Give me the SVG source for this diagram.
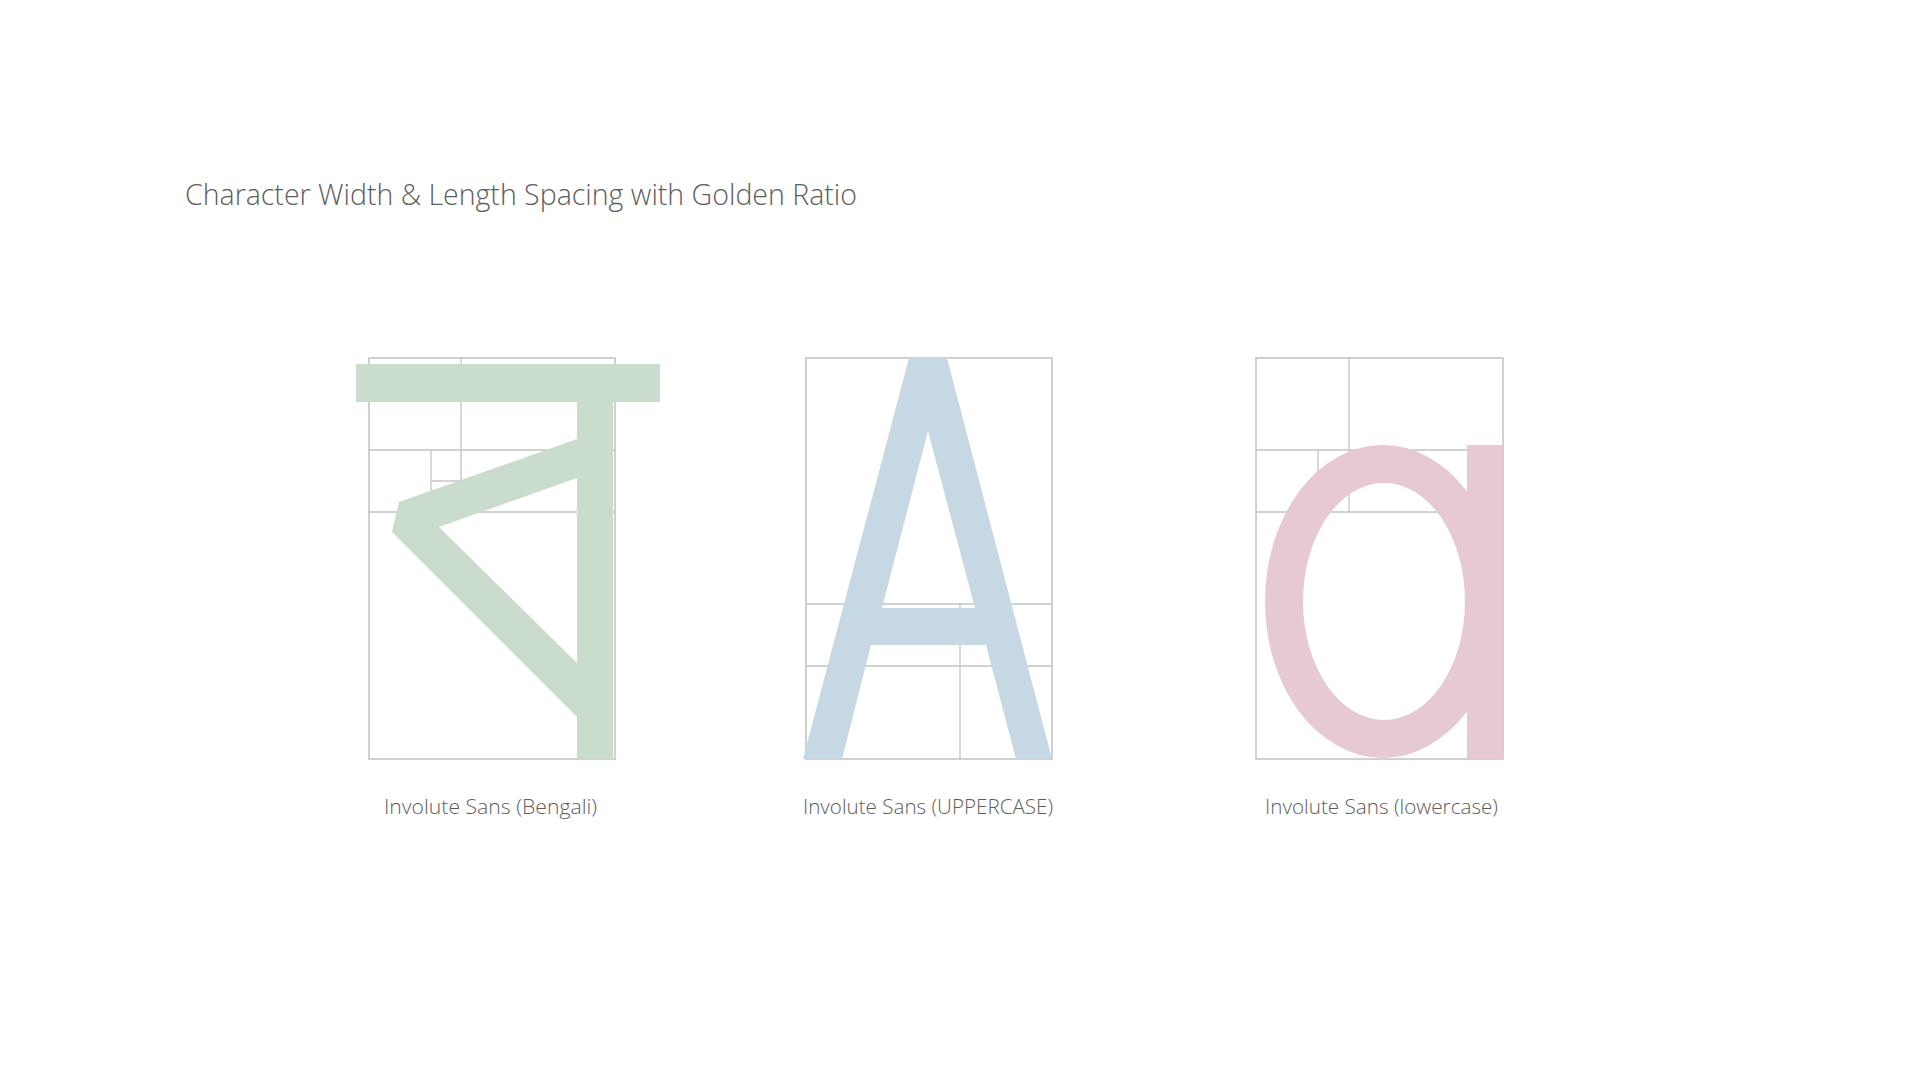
<svg xmlns="http://www.w3.org/2000/svg" width="1920" height="1080" viewBox="0 0 1920 1080">
  <style>
    .bg { fill: #ffffff; }
    .box { fill: none; stroke: #d0d0d0; stroke-width: 2; }
    .grid { fill: none; stroke: #c4c4c4; stroke-width: 1.3; }
    .title { font-family: "Open Sans", "Liberation Sans", sans-serif; font-weight: 300; font-size: 29px; fill: #5e5e5e; }
    .label { font-family: "Open Sans", "Liberation Sans", sans-serif; font-weight: 300; font-size: 21px; fill: #5e5e5e; text-anchor: middle; }
    .bn { fill: #cadccc; }
    .up { fill: #c6d8e3; }
    .lo { fill: #e6c9d3; }
  </style>
  <rect class="bg" x="0" y="0" width="1920" height="1080"/>
  <text id="title" class="title" x="185" y="205" textLength="672" lengthAdjust="spacingAndGlyphs">Character Width &amp; Length Spacing with Golden Ratio</text>

  <g id="bengali">
    <rect class="box" x="369" y="358" width="246" height="401"/>
    <path class="grid" d="M461,358 V512 M369,450 H615 M369,512 H615 M431,450 V512 M431,481 H461"/>
    <rect class="bn" x="356" y="364" width="304" height="38"/>
    <rect class="bn" x="577" y="402" width="36" height="357"/>
    <polygon class="bn" points="577,439 399,502 392,532 577,717 577,663 439,527 577,478"/>
    <text class="label" x="490.5" y="814" textLength="213" lengthAdjust="spacingAndGlyphs">Involute Sans (Bengali)</text>
  </g>

  <g id="uppercase">
    <rect class="box" x="806" y="358" width="246" height="401"/>
    <path class="grid" d="M806,604 H1052 M806,666 H1052 M960,604 V759"/>
    <path class="up" fill-rule="evenodd" d="M909,358 L947,358 L1052,759 L1016,759 L986,645 L871,645 L842,759 L803,759 Z M928,431 L975,608 L882,608 Z"/>
    <text class="label" x="928" y="814" textLength="250" lengthAdjust="spacingAndGlyphs">Involute Sans (UPPERCASE)</text>
  </g>

  <g id="lowercase">
    <rect class="box" x="1256" y="358" width="247" height="401"/>
    <path class="grid" d="M1349,358 V512 M1256,450 H1503 M1256,512 H1503 M1318,450 V512 M1318,481 H1349"/>
    <path class="lo" fill-rule="evenodd" d="M1265,601.5 A118,156.5 0 1 0 1501,601.5 A118,156.5 0 1 0 1265,601.5 Z M1303,601.5 A81,118.5 0 1 1 1465,601.5 A81,118.5 0 1 1 1303,601.5 Z"/>
    <rect class="lo" x="1467" y="445" width="36" height="314"/>
    <text class="label" x="1381.5" y="814" textLength="233" lengthAdjust="spacingAndGlyphs">Involute Sans (lowercase)</text>
  </g>

  <g id="connectors"/>
</svg>
